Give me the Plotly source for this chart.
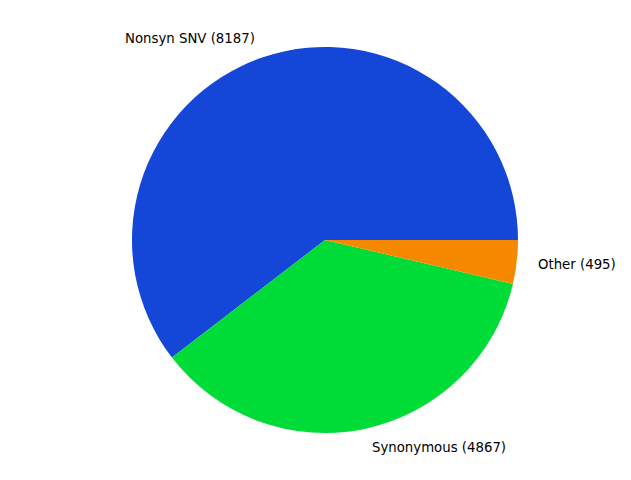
import math
import plotly.graph_objects as go

labels = ["Nonsyn SNV", "Synonymous", "Other"]
values = [8187, 4867, 495]
colors = ["#1447D7", "#00DC37", "#F68800"]

W, H = 631, 480
# page body margin offsets the figure by ~8px; compensate
cx, cy, r = 325 - 8, 240 - 8, 193

total = sum(values)
first_deg = 360.0 * values[0] / total

fig = go.Figure(go.Pie(
    labels=labels, values=values, sort=False, direction="counterclockwise",
    rotation=90 - first_deg, marker=dict(colors=colors, line=dict(width=0)),
    textinfo="none", hoverinfo="label+value", showlegend=False,
    domain=dict(x=[(cx - r) / W, (cx + r) / W], y=[(H - cy - r) / H, (H - cy + r) / H]),
))

start = 0.0
annotations = []
for lab, v in zip(labels, values):
    ang = 360.0 * v / total
    mid = math.radians(start + ang / 2)
    start += ang
    x = cx + 1.1 * r * math.cos(mid)
    y = cy - 1.1 * r * math.sin(mid)
    annotations.append(dict(
        x=x / W, y=1 - y / H, xref="paper", yref="paper",
        text=f"{lab} ({v})", showarrow=False,
        xanchor="left" if math.cos(mid) > 0 else "right", yanchor="middle",
        font=dict(family="DejaVu Sans", size=13.3, color="#000000"),
    ))

fig.update_layout(
    width=W, height=H, margin=dict(l=0, r=0, t=0, b=0),
    paper_bgcolor="white", plot_bgcolor="white",
    annotations=annotations,
)
fig.write_html("out.html")
